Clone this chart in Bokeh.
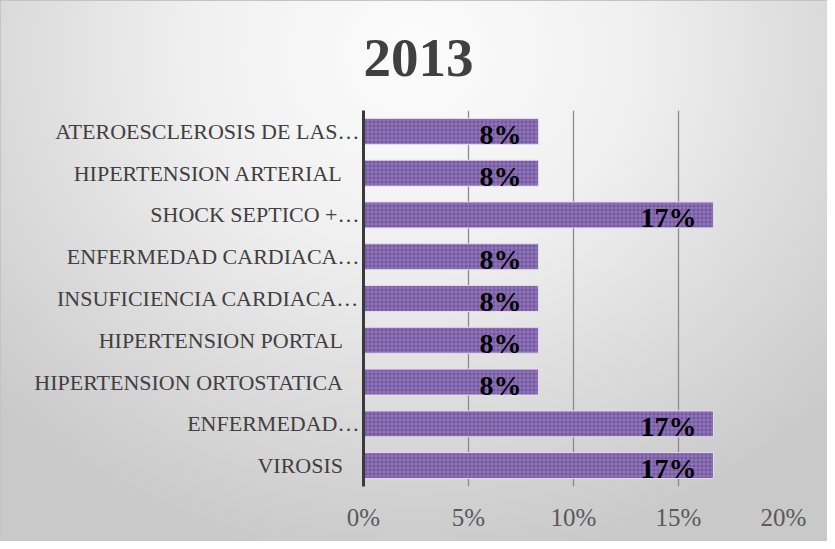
from bokeh.plotting import figure
from bokeh.models import ColumnDataSource, Title, NumeralTickFormatter, FixedTicker, Range1d, FactorRange
from bokeh.core.properties import value
from bokeh.embed import file_html
from bokeh.resources import INLINE

SP = "\u00a0\u00a0\u00a0"
categories = [
    "ATEROESCLEROSIS DE LAS…",
    "HIPERTENSION ARTERIAL" + SP,
    "SHOCK SEPTICO +…",
    "ENFERMEDAD CARDIACA…",
    "INSUFICIENCIA CARDIACA…",
    "HIPERTENSION PORTAL" + SP,
    "HIPERTENSION ORTOSTATICA" + SP,
    "ENFERMEDAD…",
    "VIROSIS" + SP,
]
shares = [0.0833, 0.0833, 0.1667, 0.0833, 0.0833, 0.0833, 0.0833, 0.1667, 0.1667]
labels = ["8%", "8%", "17%", "8%", "8%", "8%", "8%", "17%", "17%"]
x_ticks = [0, 0.05, 0.10, 0.15, 0.20]
title_text = "2013"

SERIF = "Liberation Serif"

src = ColumnDataSource(dict(cat=categories, share=shares, label=labels))

p = figure(
    width=827, height=541,
    y_range=FactorRange(factors=list(reversed(categories))),
    x_range=Range1d(0, 0.2),
    output_backend="svg", toolbar_location=None,
    min_border_left=362, min_border_right=45, min_border_top=109, min_border_bottom=56,
)
p.background_fill_color = None
p.border_fill_color = None
p.outline_line_color = None
p.styles = {
    "background": "radial-gradient(ellipse 70% 95% at 50% 10%, #fcfcfc 0%, #f0f0f0 38%, #dadada 72%, #c9c9c9 100%)",
    "border-top": "1px solid #c4c4c4",
    "border-left": "1px solid #c4c4c4",
}

p.add_layout(Title(text=title_text, align="left", offset=0, standoff=70,
                   text_font=SERIF, text_font_size="55px", text_font_style="bold",
                   text_color="#404040"), "above")

p.hbar(y="cat", right="share", left=0, height=0.62, source=src,
       fill_color="#7757a3", line_color="#e4dced", line_width=1,
       hatch_pattern="+", hatch_scale=4, hatch_color="#ab99cc",
       hatch_weight=1, hatch_alpha=0.5)

p.text(x="share", y="cat", text="label", source=src,
       text_align="right", text_baseline="middle", x_offset=-17, y_offset=3,
       text_font=value(SERIF), text_font_style="bold", text_font_size="28px",
       text_color="#000000")

# axes
p.xaxis.ticker = FixedTicker(ticks=x_ticks)
p.xaxis.formatter = NumeralTickFormatter(format="0%")
p.xaxis.axis_line_color = None
p.xaxis.major_tick_line_color = None
p.xaxis.minor_tick_line_color = None
p.xaxis.major_tick_out = 0
p.xaxis.major_label_standoff = 17
p.xaxis.major_label_text_font = SERIF
p.xaxis.major_label_text_font_size = "25px"
p.xaxis.major_label_text_color = "#595959"

p.yaxis.axis_line_color = "#3a3a3a"
p.yaxis.axis_line_width = 3
p.yaxis.major_tick_line_color = None
p.yaxis.minor_tick_line_color = None
p.yaxis.major_tick_out = 0
p.yaxis.major_label_standoff = 4
p.yaxis.major_label_text_font = SERIF
p.yaxis.major_label_text_font_size = "22px"
p.yaxis.major_label_text_color = "#404040"

p.xgrid.ticker = FixedTicker(ticks=x_ticks)
p.xgrid.grid_line_color = "#8a8a8a"
p.xgrid.grid_line_width = 1.3
p.ygrid.grid_line_color = None

open("out.html", "w").write(file_html(p, INLINE))
